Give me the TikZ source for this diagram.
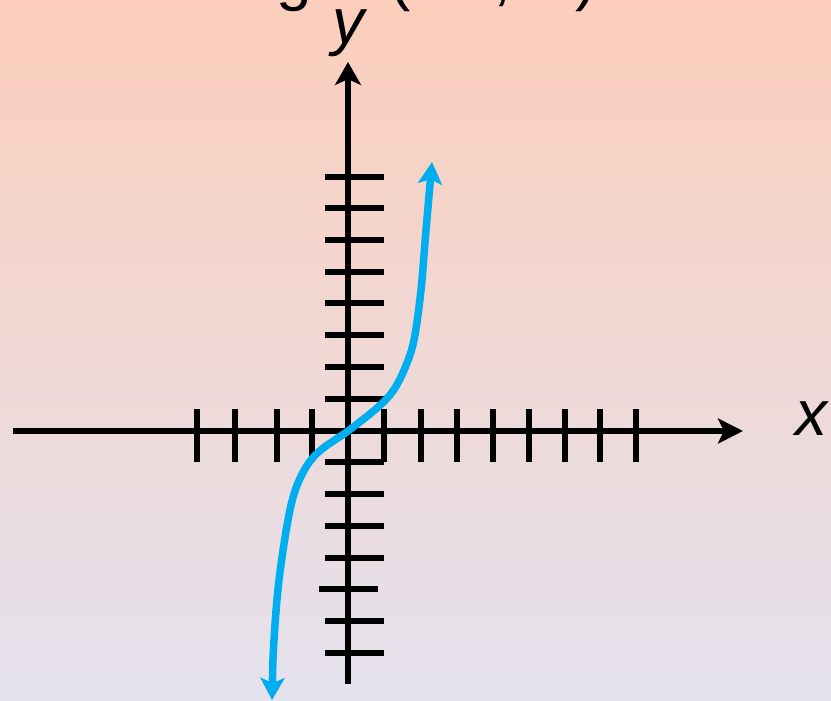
\documentclass[tikz,border=0pt]{standalone}
\usepackage{fontspec}
\setmainfont{Liberation Sans}
\usetikzlibrary{arrows.meta}
\definecolor{bgtop}{HTML}{FCCEBB}
\definecolor{bgbot}{HTML}{E4E2EE}
\definecolor{curveblue}{HTML}{00AEEF}
\begin{document}
\begin{tikzpicture}[x=1pt,y=-1pt,
  axisline/.style={line width=5.4pt, black},
  tickline/.style={line width=5.2pt, black},
  curveline/.style={line width=7.5pt, curveblue},
  biglabel/.style={inner sep=0pt, anchor=base, font=\fontsize{64}{64}\selectfont},
]
\useasboundingbox (0,0) rectangle (831,701);
\clip (0,0) rectangle (831,701);
\shade[top color=bgtop, bottom color=bgbot] (0,0) rectangle (831,701);

% title (cut off at top)
\node[biglabel] (title) at (378,-1) {Range: (−∞, ∞)};

% axis labels
\node[biglabel, font=\fontsize{64}{64}\selectfont\itshape] (xlab) at (811,435) {x};
\node[biglabel, font=\fontsize{64}{64}\selectfont\itshape] (ylab) at (348,44) {y};

% axis end points
\coordinate (xl) at (13,431);
\coordinate (xr) at (743,431);
\coordinate (yb) at (348,684);
\coordinate (yt) at (348,62);

% ticks on x axis
\foreach \tx in {197,235,277,312,384,421,457,493,529,565,600,636}
  \draw[tickline] (\tx,409) -- (\tx,462);
% ticks on y axis
\foreach \ty in {177,208,240,272,303,335,367,399,462,494,526,558,621,653}
  \draw[tickline] (325,\ty) -- (384,\ty);
\draw[tickline] (319,589) -- (378,589);

% axes
\draw[axisline, -{Stealth[length=25pt,width=25pt,inset=6pt]}] (xl) -- (xr);
\draw[axisline, -{Stealth[length=23pt,width=26pt,inset=6pt]}] (yb) -- (yt);

% curve
\draw[curveline, {Stealth[length=22pt,width=24pt,inset=5pt]}-{Stealth[length=22pt,width=24pt,inset=5pt]}]
  plot[smooth, tension=0.55] coordinates {(272,700) (274,640) (279,580) (288,520) (296,488) (308,464) (322,449) (348,431) (377,408) (393,391) (405,368) (414,340) (421,290) (426,230) (432,162)};
\end{tikzpicture}
\end{document}
